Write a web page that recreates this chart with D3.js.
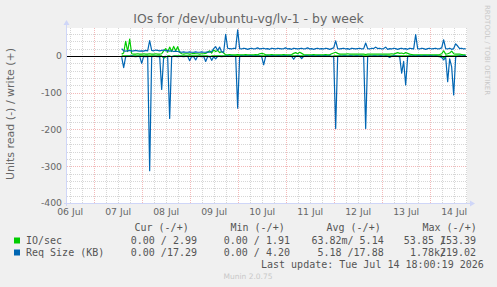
<!DOCTYPE html>
<html>
<head>
<meta charset="utf-8">
<script src="https://cdn.jsdelivr.net/npm/d3@7"></script>
<style>
  body { margin: 0; background: #f0f0f0; }
  svg { display: block; }
  text { font-family: "DejaVu Sans", sans-serif; }
  .mono { font-family: "DejaVu Sans Mono", monospace; white-space: pre; }
</style>
</head>
<body>
<div id="chart"></div>
<script>
// hourly samples starting 07 Jul 14:00
const dataStart = new Date(2026, 6, 7, 14, 0);

const ioWrite = [
  5, 8, 40, 12, 46, 6, 5, 5, 6, 5,
  5, 6, 5, 5, 6, 5, 5, 6, 5, 5,
  6, 14, 20, 10, 24, 12, 26, 14, 25, 10,
  6, 5, 6, 6, 5, 6, 7, 6, 6, 5,
  6, 6, 7, 10, 14, 8, 16, 12, 15, 9,
  12, 8, 3, 3, 4, 3, 3, 3, 4, 3,
  3, 3, 4, 3, 3, 3, 3, 4, 3, 6,
  7, 6, 3, 3, 3, 4, 3, 3, 3, 3,
  3, 4, 3, 3, 3, 4, 7, 9, 6, 10,
  7, 4, 3, 3, 3, 3, 4, 3, 3, 3,
  3, 3, 4, 3, 3, 6, 8, 10, 7, 5,
  5, 5, 5, 6, 5, 5, 5, 5, 5, 5,
  5, 5, 4, 5, 5, 5, 5, 5, 5, 5,
  5, 5, 5, 5, 5, 6, 5, 7, 9, 7,
  8, 6, 9, 7, 5, 4, 3, 3, 3, 3,
  3, 3, 3, 3, 3, 3, 3, 3, 3, 4,
  6, 14, 5, 6, 8, 13, 6, 5, 5, 5,
  4, 3, 3
];

const ioRead = [
  0, 0, 0, 0, 0, 0, 0, 0, 0, 0,
  0, 0, 0, 0, 0, 0, 0, 0, 0, 0,
  0, -6, -3, 0, 0, -2, 0, 0, 0, 0,
  0, 0, 0, 0, 0, 0, 0, 0, 0, 0,
  0, 0, 0, 0, -2, 0, 0, 0, 0, 0,
  0, 0, 0, 0, 0, 0, 0, 0, 0, 0,
  0, 0, 0, 0, 0, 0, 0, 0, 0, 0,
  0, 0, 0, 0, 0, 0, 0, 0, 0, 0,
  0, 0, 0, 0, 0, 0, 0, 0, 0, 0,
  0, 0, 0, 0, 0, 0, 0, 0, 0, 0,
  0, 0, 0, 0, 0, -2, 0, 0, 0, 0,
  0, 0, 0, 0, 0, 0, 0, 0, 0, 0,
  0, 0, 0, 0, 0, 0, 0, 0, 0, 0,
  0, 0, 0, 0, 0, 0, 0, 0, 0, 0,
  0, 0, 0, 0, 0, 0, 0, 0, 0, 0,
  0, 0, 0, 0, 0, 0, 0, 0, 0, 0,
  0, -5, 0, 0, 0, 0, 0, 0, 0, 0,
  0, 0, 0
];

const sizeWrite = [
  20, 14, 13, 14, 15, 13, 14, 15, 14, 13,
  14, 13, 15, 14, 42, 15, 14, 16, 15, 14,
  15, 16, 14, 15, 13, 14, 12, 13, 12, 11,
  10, 11, 10, 10, 11, 10, 10, 11, 10, 10,
  11, 10, 10, 11, 10, 12, 20, 25, 15, 24,
  11, 10, 59, 21, 20, 19, 21, 20, 71, 20,
  19, 21, 20, 18, 20, 21, 19, 20, 22, 19,
  20, 21, 19, 20, 18, 21, 20, 19, 21, 20,
  19, 20, 22, 19, 20, 18, 21, 20, 19, 20,
  21, 19, 20, 22, 19, 20, 18, 20, 21, 19,
  20, 19, 21, 20, 18, 20, 22, 41, 20, 19,
  20, 21, 19, 20, 18, 21, 20, 19, 20, 21,
  19, 20, 35, 20, 19, 21, 20, 24, 20, 21,
  19, 20, 24, 18, 20, 19, 21, 20, 18, 20,
  21, 19, 20, 18, 21, 20, 19, 58, 20, 19,
  21, 20, 18, 20, 21, 19, 20, 21, 19, 20,
  22, 44, 20, 19, 21, 18, 20, 33, 27, 20,
  21, 19, 20
];

const sizeRead = [
  -3, -32, -2, -1, -1, 0, -1, -2, -1, -1,
  -20, -1, -2, -1, -312, -2, -1, -1, -2, -1,
  -91, -2, -1, -3, -170, -2, -1, -1, -2, -1,
  -1, -2, -1, -1, -13, -1, -2, -11, -1, -1,
  -2, -1, -15, -2, -1, -12, -2, -8, -1, -1,
  -2, -1, -1, 0, -1, 0, -1, -1, -142, -1,
  0, -1, 0, -1, 0, 0, -1, 0, -1, 0,
  -2, -24, -1, 0, -1, 0, 0, -1, 0, 0,
  -1, 0, 0, -1, 0, -1, -9, -1, 0, -1,
  -7, -1, 0, 0, -1, 0, 0, -1, 0, 0,
  -1, 0, 0, -1, 0, -1, -2, -197, -2, 0,
  -1, 0, 0, -1, 0, 0, -1, 0, 0, -1,
  0, -2, -197, -2, 0, -1, 0, 0, -1, 0,
  0, -1, 0, -1, -4, -1, 0, 0, -1, -2,
  -47, -15, -79, -2, 0, -1, 0, -1, 0, 0,
  -1, 0, 0, -1, 0, 0, -1, 0, -1, -2,
  -4, -11, -3, -70, -8, -30, -106, -3, -1, 0,
  -1, 0, 0
];

const yTicks = [0, -100, -200, -300, -400];
const dayLabels = [6, 7, 8, 9, 10, 11, 12, 13, 14];

const legendNames = ["IO/sec", "Req Size (KB)"];
const legendColors = ["#00cc00", "#0066b3"];
const curText = ["0.00 / 2.99", "0.00 /17.29"];
const minText = ["0.00 / 1.91", "0.00 / 4.20"];
const avgText = ["63.82m/ 5.14", " 5.18 /17.88"];
const maxReadText = ["53.85 /", "1.78k/"];
const maxWriteText = ["153.39", "219.02"];
const headers = ["Cur (-/+)", "Min (-/+)", "Avg (-/+)", "Max (-/+)"];

const W = 497, H = 287;
const plot = {left: 67, right: 467, top: 28, bottom: 203};

const svg = d3.select("#chart").append("svg")
    .attr("width", W)
    .attr("height", H);

const x = d3.scaleTime()
    .domain([new Date(2026, 6, 6, 10, 40), new Date(2026, 6, 14, 18, 40)])
    .range([plot.left, plot.right]);

const y = d3.scaleLinear()
    .domain([-400, 76])
    .range([plot.bottom, plot.top]);

svg.append("rect")
    .attr("x", plot.left).attr("y", plot.top)
    .attr("width", plot.right - plot.left).attr("height", plot.bottom - plot.top)
    .attr("fill", "#ffffff");

// grid
const grid = svg.append("g").attr("shape-rendering", "crispEdges");
const minorColor = "#d6d6d6", majorColor = "#f3b9b9";
const minorH = d3.range(-380, 76, 20).filter(v => v % 100 !== 0);
grid.selectAll(".hminor").data(minorH).enter().append("line")
    .attr("x1", plot.left).attr("x2", plot.right)
    .attr("y1", d => Math.round(y(d)) + 0.5).attr("y2", d => Math.round(y(d)) + 0.5)
    .attr("stroke", minorColor).attr("stroke-dasharray", "1,1");

const minorV = d3.timeHour.every(6).range(x.domain()[0], x.domain()[1]).filter(d => d.getHours() !== 0);
grid.selectAll(".vminor").data(minorV).enter().append("line")
    .attr("y1", plot.top).attr("y2", plot.bottom)
    .attr("x1", d => Math.round(x(d)) + 0.5).attr("x2", d => Math.round(x(d)) + 0.5)
    .attr("stroke", minorColor).attr("stroke-dasharray", "1,1");

grid.selectAll(".hmajor").data(yTicks.filter(v => v !== 0 && v !== -400)).enter().append("line")
    .attr("x1", plot.left).attr("x2", plot.right)
    .attr("y1", d => Math.round(y(d)) + 0.5).attr("y2", d => Math.round(y(d)) + 0.5)
    .attr("stroke", majorColor).attr("stroke-dasharray", "1,1");

const majorV = d3.timeDay.range(x.domain()[0], x.domain()[1]);
grid.selectAll(".vmajor").data(majorV).enter().append("line")
    .attr("y1", plot.top).attr("y2", plot.bottom)
    .attr("x1", d => Math.round(x(d)) + 0.5).attr("x2", d => Math.round(x(d)) + 0.5)
    .attr("stroke", majorColor).attr("stroke-dasharray", "1,1");

// series
const t = i => d3.timeHour.offset(dataStart, i);
const line = d3.line().x((d, i) => x(t(i))).y(d => y(d));

const series = [
  {values: ioRead, color: legendColors[0]},
  {values: ioWrite, color: legendColors[0]},
  {values: sizeRead, color: legendColors[1]},
  {values: sizeWrite, color: legendColors[1]}
];
svg.append("g").selectAll("path").data(series).enter().append("path")
    .attr("d", d => line(d.values))
    .attr("fill", "none")
    .attr("stroke", d => d.color)
    .attr("stroke-width", 1.2)
    .attr("stroke-linejoin", "round");

// zero line
svg.append("line")
    .attr("x1", plot.left).attr("x2", plot.right)
    .attr("y1", Math.round(y(0)) + 0.5).attr("y2", Math.round(y(0)) + 0.5)
    .attr("stroke", "#000").attr("shape-rendering", "crispEdges");

// axes lines + arrows
const axisColor = "#cfd6f8";
svg.append("line")
    .attr("x1", plot.left - 0.5).attr("x2", plot.left - 0.5)
    .attr("y1", plot.bottom + 3).attr("y2", plot.top - 4)
    .attr("stroke", axisColor);
svg.append("path")
    .attr("d", `M${plot.left - 3.5},${plot.top - 3} L${plot.left - 0.5},${plot.top - 8} L${plot.left + 2.5},${plot.top - 3} Z`)
    .attr("fill", axisColor);
svg.append("line")
    .attr("x1", plot.left - 3).attr("x2", plot.right + 4)
    .attr("y1", plot.bottom + 0.5).attr("y2", plot.bottom + 0.5)
    .attr("stroke", axisColor);
svg.append("path")
    .attr("d", `M${plot.right + 3},${plot.bottom - 2.5} L${plot.right + 8},${plot.bottom + 0.5} L${plot.right + 3},${plot.bottom + 3.5} Z`)
    .attr("fill", axisColor);

// tick labels
const yAxis = svg.append("g")
    .attr("transform", `translate(${plot.left - 4},0)`)
    .call(d3.axisLeft(y).tickValues(yTicks).tickSize(0).tickPadding(1).tickFormat(d => String(d)));
yAxis.select(".domain").remove();
yAxis.selectAll("text").attr("font-size", 9.3).attr("fill", "#666").attr("font-family", "DejaVu Sans");

const xAxis = svg.append("g")
    .attr("transform", `translate(0,${plot.bottom + 2})`)
    .call(d3.axisBottom(x)
        .tickValues(dayLabels.map(d => new Date(2026, 6, d, 12)))
        .tickSize(0).tickPadding(3)
        .tickFormat(d3.timeFormat("%d %b")));
xAxis.select(".domain").remove();
xAxis.selectAll("text").attr("font-size", 9.3).attr("fill", "#666").attr("font-family", "DejaVu Sans");

// title
svg.append("text")
    .attr("x", 248.5).attr("y", 23)
    .attr("text-anchor", "middle")
    .attr("font-size", 12.4)
    .attr("fill", "#666")
    .text("IOs for /dev/ubuntu-vg/lv-1 - by week");

svg.append("text")
    .attr("transform", "translate(14,114) rotate(-90)")
    .attr("text-anchor", "middle")
    .attr("font-size", 11)
    .attr("fill", "#666")
    .text("Units read (-) / write (+)");

svg.append("text")
    .attr("transform", "translate(485,5) rotate(90)")
    .attr("font-size", 7)
    .attr("fill", "#c8c8c8")
    .text("RRDTOOL / TOBI OETIKER");

// legend
const legend = svg.append("g").attr("class", "mono").attr("font-size", 10).attr("fill", "#555");
const headerX = [134.5, 230.5, 326.5, 422.5];
legend.selectAll(".hdr").data(headers).enter().append("text")
    .attr("class", "mono")
    .attr("x", (d, i) => headerX[i]).attr("y", 231)
    .text(d => d);

legendNames.forEach((name, i) => {
  const by = 244 + i * 12;
  legend.append("rect")
      .attr("x", 14).attr("y", by - 6.5).attr("width", 6).attr("height", 6)
      .attr("fill", legendColors[i]);
  legend.append("text").attr("class", "mono").attr("x", 26).attr("y", by).text(name);
  legend.append("text").attr("class", "mono").attr("x", 197).attr("y", by)
      .attr("text-anchor", "end").text(curText[i]);
  legend.append("text").attr("class", "mono").attr("x", 290).attr("y", by)
      .attr("text-anchor", "end").text(minText[i]);
  legend.append("text").attr("class", "mono").attr("x", 383.7).attr("y", by)
      .attr("text-anchor", "end").text(avgText[i]);
  legend.append("text").attr("class", "mono").attr("x", 446).attr("y", by)
      .attr("text-anchor", "end").text(maxReadText[i]);
  legend.append("text").attr("class", "mono").attr("x", 440).attr("y", by)
      .text(maxWriteText[i]);
});

legend.append("text").attr("class", "mono")
    .attr("x", 261).attr("y", 267.5)
    .text("Last update: Tue Jul 14 18:00:19 2026");

svg.append("text")
    .attr("x", 248).attr("y", 279)
    .attr("text-anchor", "middle")
    .attr("font-size", 7.5)
    .attr("fill", "#c8c8c8")
    .text("Munin 2.0.75");
</script>
</body>
</html>
